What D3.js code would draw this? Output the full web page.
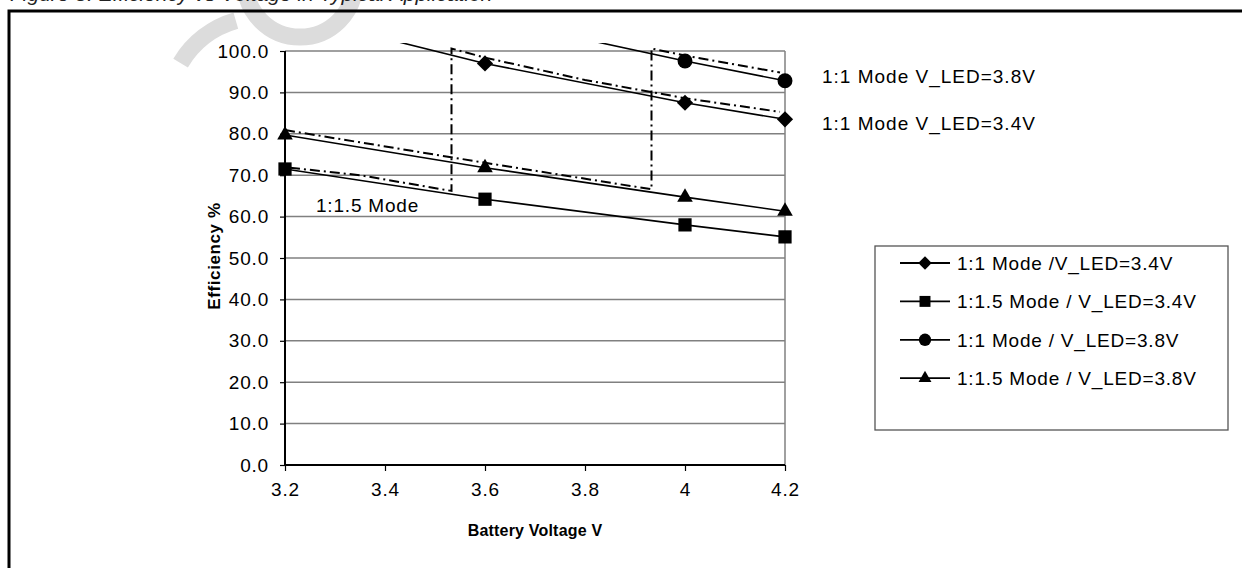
<!DOCTYPE html>
<html>
<head>
<meta charset="utf-8">
<script src="https://cdn.jsdelivr.net/npm/d3@7"></script>
<style>
  body { margin: 0; background: #fff; }
  svg { display: block; font-family: "Liberation Sans", Arial, sans-serif; }
</style>
</head>
<body>
<svg width="1242" height="568"></svg>
<script>
// battery voltage where the markers sit
var volts = [3.2, 3.6, 4.0, 4.2];
// efficiency %, null = off the top of the chart
var mode11_34 = [109, 97, 87.5, 83.5];
var mode15_34 = [71.5, 64.2, 58.0, 55.1];
var mode11_38 = [null, 108, 97.6, 92.8];
var mode15_38 = [79.7, 71.8, 64.7, 61.3];

// dash-dot transition curves (1:1.5 -> 1:1)
var trans34_v = [3.21, 3.35, 3.533, 3.533, 3.6, 3.8, 4.0, 4.19];
var trans34_e = [71.8, 70.0, 66.2, 100.6, 98.4, 93.0, 88.6, 85.3];
var trans38_v = [3.2, 3.6, 3.933, 3.933, 4.0, 4.19];
var trans38_e = [80.9, 73.0, 66.6, 100.6, 98.9, 94.8];

var xTicks = [3.2, 3.4, 3.6, 3.8, 4.0, 4.2];
var yTicks = [0, 10, 20, 30, 40, 50, 60, 70, 80, 90, 100];

var seriesNames = ["1:1 Mode /V_LED=3.4V", "1:1.5 Mode / V_LED=3.4V", "1:1 Mode / V_LED=3.8V", "1:1.5 Mode / V_LED=3.8V"];
var seriesData = [mode11_34, mode15_34, mode11_38, mode15_38];
var seriesShape = ["diamond", "square", "circle", "triangle"];

var svg = d3.select("svg");

var x = d3.scaleLinear().domain([3.2, 4.2]).range([285, 785]);
var y = d3.scaleLinear().domain([0, 100]).range([465, 51]);

// faint watermark behind everything
var wm = svg.append("g").attr("fill", "none").attr("stroke", "#dcdcdc").attr("stroke-width", 17);
var p1 = d3.path();
p1.arc(300, -18, 55, 0, Math.PI);
wm.append("path").attr("d", p1.toString());
var p2 = d3.path();
p2.arc(262, 112, 95, -1.85, -2.6, true);
wm.append("path").attr("d", p2.toString());

// caption cut at the top
svg.append("text")
    .attr("x", 10)
    .attr("y", 1)
    .style("font-size", "21px")
    .style("font-style", "italic")
    .attr("fill", "#222")
    .text("Figure 8. Efficiency vs Voltage in Typical Application");

// outer frame
svg.append("rect")
    .attr("x", 9).attr("y", 11)
    .attr("width", 1300).attr("height", 700)
    .attr("fill", "none")
    .attr("stroke", "#000")
    .attr("stroke-width", 3);

// grid
svg.append("g").selectAll("line")
    .data(yTicks.slice(1))
    .enter().append("line")
    .attr("x1", x(3.2)).attr("x2", x(4.2))
    .attr("y1", function(d) { return y(d); })
    .attr("y2", function(d) { return y(d); })
    .attr("stroke", "#808080")
    .attr("stroke-width", 1.5);

svg.append("line")
    .attr("x1", x(4.2)).attr("x2", x(4.2))
    .attr("y1", y(100)).attr("y2", y(0))
    .attr("stroke", "#808080")
    .attr("stroke-width", 1.5);

// axes
var yAxis = svg.append("g")
    .attr("transform", "translate(" + x(3.2) + ",0)")
    .call(d3.axisLeft(y).tickValues(yTicks).tickSize(5).tickPadding(11).tickFormat(d3.format(".1f")));
var xAxis = svg.append("g")
    .attr("transform", "translate(0," + y(0) + ")")
    .call(d3.axisBottom(x).tickValues(xTicks).tickSize(6).tickPadding(12).tickFormat(function(d) { return d == 4 ? "4" : d3.format(".1f")(d); }));

[yAxis, xAxis].forEach(function(a) {
    a.select(".domain").attr("stroke", "#000").attr("stroke-width", 2);
    a.selectAll(".tick line").attr("stroke", "#000").attr("stroke-width", 1.2);
    a.selectAll("text")
        .style("font-size", "19px")
        .style("letter-spacing", "0.8px")
        .style("font-family", "'Liberation Sans', Arial, sans-serif")
        .attr("fill", "#000");
});
xAxis.select(".domain").attr("d", "M" + x(3.2) + ",0H" + x(4.2));
yAxis.select(".domain").attr("d", "M0," + y(0) + "V" + y(100));

// axis titles
svg.append("text")
    .attr("x", 535).attr("y", 536)
    .attr("text-anchor", "middle")
    .style("font-size", "16px")
    .style("font-weight", "bold")
    .style("letter-spacing", "0.2px")
    .text("Battery Voltage V");

svg.append("text")
    .attr("transform", "translate(220,256) rotate(-90)")
    .attr("text-anchor", "middle")
    .style("font-size", "17px")
    .style("font-weight", "bold")
    .style("letter-spacing", "0.6px")
    .text("Efficiency %");

// plot clip: excel lets lines run a little above the 100 line
svg.append("clipPath").attr("id", "plotclip")
    .append("rect")
    .attr("x", x(3.2)).attr("y", 43)
    .attr("width", x(4.2) - x(3.2) + 1).attr("height", y(0) - 43);

var plot = svg.append("g").attr("clip-path", "url(#plotclip)");

var line = d3.line()
    .defined(function(d) { return d[1] != null; })
    .x(function(d) { return x(d[0]); })
    .y(function(d) { return y(d[1]); });

// dash-dot transition lines
[[trans34_v, trans34_e], [trans38_v, trans38_e]].forEach(function(t) {
    plot.append("path")
        .datum(t[0].map(function(v, i) { return [v, t[1][i]]; }))
        .attr("d", line)
        .attr("fill", "none")
        .attr("stroke", "#000")
        .attr("stroke-width", 2)
        .attr("stroke-dasharray", "10,4,2,4");
});

function shapePath(shape, s) {
    if (shape == "diamond") return d3.symbol().type(d3.symbolSquare).size(s * 0.75)();
    if (shape == "square") return d3.symbol().type(d3.symbolSquare).size(s)();
    if (shape == "circle") return d3.symbol().type(d3.symbolCircle).size(s)();
    return d3.symbol().type(d3.symbolTriangle).size(s * 0.6)();
}

seriesData.forEach(function(vals, k) {
    var pts = volts.map(function(v, i) { return [v, vals[i]]; });
    plot.append("path")
        .datum(pts)
        .attr("d", line)
        .attr("fill", "none")
        .attr("stroke", "#000")
        .attr("stroke-width", 1.6);

    svg.append("g").selectAll("path")
        .data(pts.filter(function(d) { return d[1] != null && d[1] <= 100; }))
        .enter().append("path")
        .attr("transform", function(d) {
            return "translate(" + x(d[0]) + "," + y(d[1]) + ")" + (seriesShape[k] == "diamond" ? " rotate(45)" : "");
        })
        .attr("d", shapePath(seriesShape[k], 175))
        .attr("fill", "#000");
});

// annotations
svg.append("text").attr("x", 316).attr("y", 212)
    .style("font-size", "19px").style("letter-spacing", "0.8px")
    .text("1:1.5 Mode");
svg.append("text").attr("x", 822).attr("y", 83)
    .style("font-size", "19px").style("letter-spacing", "1px")
    .text("1:1 Mode V_LED=3.8V");
svg.append("text").attr("x", 822).attr("y", 130)
    .style("font-size", "19px").style("letter-spacing", "1px")
    .text("1:1 Mode V_LED=3.4V");

// legend
var legend = svg.append("g").attr("transform", "translate(875,246)");
legend.append("rect")
    .attr("width", 353).attr("height", 184)
    .attr("fill", "#fff")
    .attr("stroke", "#555")
    .attr("stroke-width", 1.3);

var item = legend.selectAll("g.item")
    .data(seriesNames)
    .enter().append("g")
    .attr("class", "item")
    .attr("transform", function(d, i) { return "translate(0," + (17 + i * 38.4) + ")"; });

item.append("line")
    .attr("x1", 25).attr("x2", 75)
    .attr("stroke", "#000").attr("stroke-width", 1.8);
item.append("path")
    .attr("transform", function(d, i) { return "translate(50,0)" + (seriesShape[i] == "diamond" ? " rotate(45)" : ""); })
    .attr("d", function(d, i) { return shapePath(seriesShape[i], 120); })
    .attr("fill", "#000");
item.append("text")
    .attr("x", 82).attr("y", 7)
    .style("font-size", "19px")
    .style("letter-spacing", "0.8px")
    .text(function(d) { return d; });
</script>
</body>
</html>
